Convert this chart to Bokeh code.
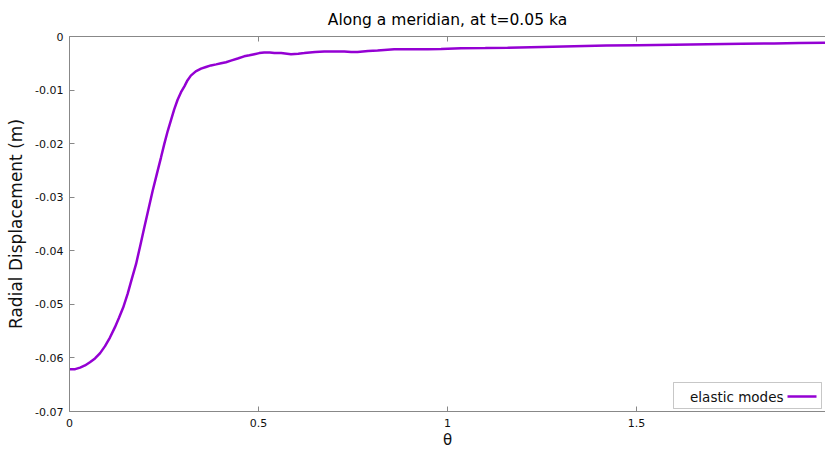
from bokeh.plotting import figure
from bokeh.models import (FixedTicker, CustomJSTickFormatter, LinearAxis, Label,
                          BoxAnnotation, Arrow, Range1d, ColumnDataSource)
from bokeh.embed import file_html
from bokeh.resources import INLINE

title_text = "Along a meridian, at t=0.05 ka"
x_label = "θ"
y_label = "Radial Displacement (m)"
series_name = "elastic modes"

theta = [0.0, 0.015, 0.028, 0.041, 0.054, 0.0675, 0.081, 0.094, 0.107, 0.120, 0.131,
         0.142, 0.154, 0.165, 0.176, 0.187, 0.198, 0.209, 0.220, 0.231, 0.242, 0.251,
         0.260, 0.2685, 0.277, 0.286, 0.295, 0.304, 0.312, 0.321, 0.334, 0.348, 0.361,
         0.374, 0.388, 0.401, 0.414, 0.427, 0.445, 0.462, 0.476, 0.489, 0.502, 0.515,
         0.530, 0.542, 0.560, 0.586, 0.605, 0.621, 0.650, 0.674, 0.700, 0.727, 0.745,
         0.762, 0.790, 0.815, 0.859, 0.900, 0.948, 0.983, 1.036, 1.10, 1.159, 1.25,
         1.335, 1.42, 1.503, 1.60, 1.688, 1.78, 1.864, 1.93, 2.0]
disp = [-0.0621, -0.0621, -0.0618, -0.0614, -0.0608, -0.0601, -0.0591, -0.0578, -0.0562,
        -0.0543, -0.0525, -0.0506, -0.0480, -0.0452, -0.0425, -0.0391, -0.0356, -0.0322,
        -0.0288, -0.0257, -0.0226, -0.0200, -0.0176, -0.0156, -0.0136, -0.0118, -0.0104,
        -0.0093, -0.0082, -0.0073, -0.0065, -0.0060, -0.0057, -0.0054, -0.0052, -0.0050,
        -0.0048, -0.0045, -0.0041, -0.0037, -0.0035, -0.0033, -0.0031, -0.0030, -0.0030,
        -0.0031, -0.0031, -0.0033, -0.0032, -0.0031, -0.0029, -0.0028, -0.0028, -0.0028,
        -0.0029, -0.0029, -0.0027, -0.0026, -0.0024, -0.00240, -0.00238, -0.00234,
        -0.0022, -0.00215, -0.0021, -0.00195, -0.0018, -0.0017, -0.00162, -0.00152,
        -0.00144, -0.00136, -0.0013, -0.00122, -0.00118]

x_ticks = [0, 0.5, 1, 1.5]
y_ticks = [0, -0.01, -0.02, -0.03, -0.04, -0.05, -0.06, -0.07]

LINE = "#9400D3"
AX = "#888888"
FONT = "DejaVu Sans"

p = figure(width=825, height=451, output_backend="svg", toolbar_location=None,
           x_range=Range1d(0, 2.0), y_range=Range1d(-0.07, 0),
           min_border_left=69, min_border_right=0, min_border_top=36, min_border_bottom=40)
p.outline_line_color = None
p.grid.visible = False
p.background_fill_color = "white"
p.border_fill_color = "white"

src = ColumnDataSource(dict(x=theta, y=disp))
p.line("x", "y", source=src, line_color=LINE, line_width=2.5)

for ax in (p.xaxis[0], p.yaxis[0]):
    ax.axis_line_color = AX
    ax.major_tick_line_color = AX
    ax.major_tick_in = 5
    ax.major_tick_out = 0
    ax.minor_tick_line_color = None
    ax.major_label_text_font = FONT
    ax.major_label_text_font_size = "11px"
    ax.major_label_text_color = "#111111"

p.xaxis[0].ticker = FixedTicker(ticks=x_ticks)
p.yaxis[0].ticker = FixedTicker(ticks=y_ticks)
p.xaxis[0].formatter = CustomJSTickFormatter(code="return String(tick);")
p.yaxis[0].formatter = CustomJSTickFormatter(code="return Math.abs(tick) < 1e-12 ? '0' : tick.toFixed(2);")
p.xaxis[0].major_label_standoff = 7
p.yaxis[0].major_label_standoff = 6

p.xaxis[0].axis_label = x_label
p.xaxis[0].axis_label_text_font = FONT
p.xaxis[0].axis_label_text_font_size = "15px"
p.xaxis[0].axis_label_text_font_style = "normal"
p.xaxis[0].axis_label_text_color = "#111111"
p.xaxis[0].axis_label_standoff = 1
p.yaxis[0].axis_label = y_label
p.yaxis[0].axis_label_text_font = FONT
p.yaxis[0].axis_label_text_font_size = "17px"
p.yaxis[0].axis_label_text_font_style = "normal"
p.yaxis[0].axis_label_text_color = "#111111"
p.yaxis[0].axis_label_standoff = 6

top = LinearAxis(ticker=FixedTicker(ticks=x_ticks), axis_line_color=AX,
                 major_tick_line_color=AX, major_tick_in=5, major_tick_out=0,
                 minor_tick_line_color=None, major_label_standoff=0,
                 formatter=CustomJSTickFormatter(code="return '';"))
p.add_layout(top, "above")

p.title.text = title_text
p.title.text_font = FONT
p.title.text_font_size = "15.5px"
p.title.text_font_style = "normal"
p.title.text_color = "#000000"
p.title.align = "center"
p.title.standoff = 15

box = BoxAnnotation(left=604, right=752, bottom=3, top=29,
                    left_units="screen", right_units="screen",
                    bottom_units="screen", top_units="screen",
                    fill_color="white", fill_alpha=1.0, line_color="#444444", line_width=1)
p.add_layout(box)
p.add_layout(Label(x=714, y=15, x_units="screen", y_units="screen", text=series_name,
                   text_font=FONT, text_font_size="13.5px", text_align="right",
                   text_baseline="middle", text_color="#111111"))
p.add_layout(Arrow(x_start=718, y_start=15, x_end=747, y_end=15,
                   start_units="screen", end_units="screen", end=None,
                   line_color=LINE, line_width=2.5))

open("out.html", "w").write(file_html(p, INLINE))
